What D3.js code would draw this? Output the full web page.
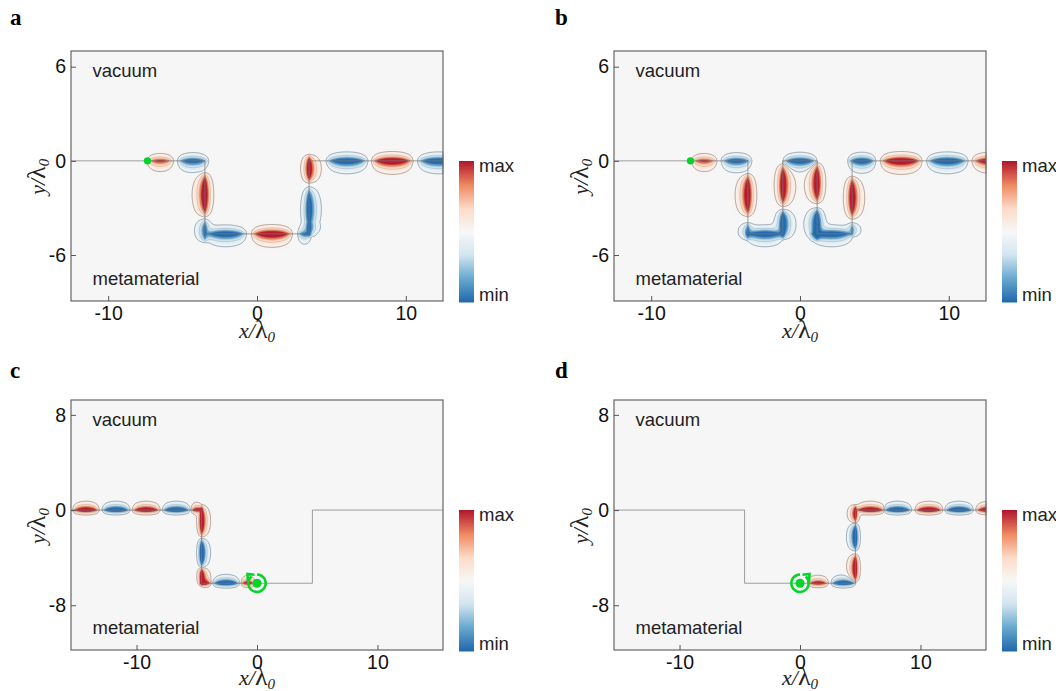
<!DOCTYPE html>
<html>
<head>
<meta charset="utf-8">
<title>field maps</title>
<script src="https://cdnjs.cloudflare.com/ajax/libs/d3/7.8.5/d3.min.js"></script>
<style>
  html, body { margin: 0; padding: 0; background: #fff; }
  svg { display: block; }
  .tick text { font-family: "Liberation Sans", sans-serif; font-size: 19.5px; fill: #111; }
  .tick line { stroke: #555; stroke-width: 1; }
  .note { font-family: "Liberation Sans", sans-serif; font-size: 18.5px; fill: #222; }
  .letter { font-family: "Liberation Serif", serif; font-size: 23px; font-weight: bold; fill: #000; }
  .axis-title { font-family: "Liberation Serif", serif; font-size: 22px; fill: #222; }
</style>
</head>
<body>
<svg id="chart" width="1056" height="691"></svg>
<script>
// ============ data ============
// lobe: [x, y, half length, peak, direction]  (units of lambda0)
const lobesA = [
  [-6.5, 0, 0.95, 1.1, 'h'], [-4.3, 0, 1.1, 1.5, 'h'], [-3.5, -2.15, 1.46, 2.2, 'v'],
  [-3.5, -4.45, 0.8, 1.2, 'v'], [-2.1, -4.65, 1.45, 1.9, 'h'], [1.0, -4.65, 1.42, 2.2, 'h'],
  [3.2, -4.65, 0.5, 1.0, 'h'], [3.5, -3.1, 1.5, 1.9, 'v'], [3.5, -4.4, 0.5, 0.9, 'v'],
  [3.5, -0.5, 0.95, 1.9, 'v'], [6.04, 0, 1.46, 1.9, 'h'], [9.09, 0, 1.44, 2.2, 'h'],
  [12.2, 0, 1.46, 1.9, 'h']
];
const signsA = [1, -1, 1, -1, -1, 1, -1, -1, -1, 1, -1, 1, -1];

const lobesB = [
  [-6.44, 0, 0.91, 1.1, 'h'], [-4.27, 0, 1.08, 1.5, 'h'], [-3.5, -2.17, 1.42, 2.2, 'v'],
  [-1.15, -1.55, 1.41, 2.1, 'v'], [0, 0, 1.19, 1.7, 'h'], [1.15, -1.42, 1.35, 2.1, 'v'],
  [3.5, -2.34, 1.42, 2.1, 'v'], [-2.36, -4.65, 1.35, 1.9, 'h'], [-1.15, -4.05, 1.0, 2.1, 'v'],
  [-3.5, -4.5, 0.6, 1.0, 'v'], [1.15, -4.05, 1.1, 2.2, 'v'], [2.13, -4.65, 1.5, 1.9, 'h'],
  [3.5, -4.4, 0.5, 0.8, 'v'], [4.15, 0, 0.98, 1.7, 'h'], [6.8, 0, 1.44, 2.2, 'h'],
  [9.9, 0, 1.44, 1.9, 'h'], [12.95, 0, 1.44, 1.9, 'h']
];
const signsB = [1, -1, 1, 1, -1, 1, 1, -1, -1, -1, -1, -1, -1, -1, 1, -1, 1];

const lobesC = [
  [-14.2, 0, 1.14, 2.2, 'h'], [-11.7, 0, 1.2, 2.2, 'h'], [-9.2, 0, 1.2, 2.2, 'h'],
  [-6.7, 0, 1.2, 2.2, 'h'], [-5.0, 0, 0.5, 1.5, 'h'], [-4.6, -0.9, 1.4, 2.2, 'v'],
  [-4.6, -3.6, 1.26, 2.2, 'v'], [-4.6, -5.6, 0.8, 2.0, 'v'], [-4.3, -6.15, 0.5, 1.5, 'h'],
  [-2.57, -6.15, 1.16, 2.2, 'h'], [-0.75, -6.15, 0.6, 1.5, 'h']
];
const signsC = [1, -1, 1, -1, 1, 1, -1, 1, 1, -1, 1];

const lobesD = [
  [1.5, -6.15, 0.9, 1.6, 'h'], [3.6, -6.15, 1.06, 2.0, 'h'], [4.6, -4.87, 1.23, 2.2, 'v'],
  [4.6, -2.27, 1.2, 2.2, 'v'], [4.6, -0.3, 0.8, 1.7, 'v'], [5.85, 0, 1.25, 2.2, 'h'],
  [8.1, 0, 1.2, 2.2, 'h'], [10.7, 0, 1.2, 2.2, 'h'], [13.2, 0, 1.22, 2.2, 'h'],
  [15.75, 0, 1.2, 2.2, 'h']
];
const signsD = [1, -1, 1, -1, 1, 1, -1, 1, -1, 1];

// waveguide interface outlines
const guideA = [[-12.5, 0], [-3.5, 0], [-3.5, -4.65], [3.5, -4.65], [3.5, 0], [12.5, 0]];
const guideB = [[-12.5, 0], [-3.5, 0], [-3.5, -4.65], [-1.15, -4.65], [-1.15, 0], [1.15, 0],
  [1.15, -4.65], [3.5, -4.65], [3.5, 0], [12.5, 0]];
const guideCD = [[-15.4, 0], [-4.6, 0], [-4.6, -6.15], [4.6, -6.15], [4.6, 0], [15.4, 0]];

const xTicksAB = [-10, 0, 10];
const xTicksCD = [-10, 0, 10];
const yTicksAB = [-6, 0, 6];
const yTicksCD = [-8, 0, 8];

const fieldColors = ['#2166ac', '#67a9cf', '#d1e5f0', '#f7f7f7', '#fddbc7', '#ef8a62', '#b2182b'];
const fieldStops = [-1, -0.66, -0.33, 0, 0.33, 0.66, 1];

const panels = [
  { letter: 'a', left: 71, top: 51, letterX: 10, letterY: 25, titleGap: 37, xd: [-12.5, 12.5], yd: [7, -8.93], xt: xTicksAB, yt: yTicksAB, lobes: lobesA, signs: signsA, guide: guideA, decayVac: 0.18, decayMeta: 0.26, source: [-7.36, 0], spin: 0 },
  { letter: 'b', left: 614, top: 51, letterX: 555, letterY: 25, titleGap: 37, xd: [-12.5, 12.5], yd: [7, -8.93], xt: xTicksAB, yt: yTicksAB, lobes: lobesB, signs: signsB, guide: guideB, decayVac: 0.18, decayMeta: 0.26, source: [-7.36, 0], spin: 0 },
  { letter: 'c', left: 71, top: 400, letterX: 10, letterY: 378, titleGap: 35, xd: [-15.44, 15.44], yd: [9.25, -11.76], xt: xTicksCD, yt: yTicksCD, lobes: lobesC, signs: signsC, guide: guideCD, decayVac: 0.225, decayMeta: 0.125, source: [0, -6.15], spin: 1 },
  { letter: 'd', left: 614, top: 400, letterX: 555, letterY: 378, titleGap: 35, xd: [-15.44, 15.44], yd: [9.25, -11.76], xt: xTicksCD, yt: yTicksCD, lobes: lobesD, signs: signsD, guide: guideCD, decayVac: 0.225, decayMeta: 0.125, source: [0, -6.15], spin: -1 }
];

// ============ layout ============
const plotW = 372;
const plotH = 250;
const gridScale = 2;   // field samples per pixel

const svg = d3.select('#chart');
const color = d3.scaleLinear().domain(fieldStops).range(fieldColors).clamp(true);

svg.append('defs').append('filter')
  .attr('id', 'soft')
  .append('feGaussianBlur')
  .attr('stdDeviation', 0.5);

// field of one panel: each lobe is cos along the guide, exponential decay away from it,
// decaying at a different rate on the metamaterial side
function buildField(p, x, y) {
  const nx = plotW * gridScale;
  const ny = plotH * gridScale;
  const values = new Float64Array(nx * ny);
  const metaRegion = p.guide.concat([[99, -99], [-99, -99]]);

  p.lobes.forEach((l, idx) => {
    const sign = p.signs[idx];
    const horizontal = l[4] === 'h';
    // across > 0 means up (h) or right (v); find which of those is the metamaterial
    const metaPositive = horizontal ? false : d3.polygonContains(metaRegion, [l[0] + 0.1, l[1]]);
    for (let j = 0; j < ny; j++) {
      const yv = y.invert((j + 0.5) / gridScale);
      for (let i = 0; i < nx; i++) {
        const xv = x.invert((i + 0.5) / gridScale);
        const along = horizontal ? xv - l[0] : yv - l[1];
        const across = horizontal ? yv - l[1] : xv - l[0];
        const u = Math.abs(along) / l[2];
        if (u >= 1) continue;
        const inMeta = across > 0 ? metaPositive : !metaPositive;
        const decay = inMeta ? p.decayMeta : p.decayVac;
        const v = l[3] * Math.cos(u * Math.PI / 2) * Math.exp(-Math.abs(across) / decay);
        values[j * nx + i] += sign * v;
      }
    }
  });
  return { values, nx, ny };
}

function drawField(g, field) {
  const levels = d3.range(0.02, 1.0001, 0.04);
  const lineLevels = [0.08, 0.28, 0.6];
  const gen = d3.contours().size([field.nx, field.ny]).smooth(true);
  const path = d3.geoPath();
  const scaled = g.append('g')
    .attr('filter', 'url(#soft)')
    .attr('transform', `scale(${1 / gridScale})`);

  [1, -1].forEach(sign => {
    const vals = Array.from(field.values, v => sign * v);
    gen.thresholds(levels);
    scaled.append('g').selectAll('path')
      .data(gen(vals))
      .join('path')
      .attr('d', path)
      .attr('fill', d => color(sign * d.value));

    gen.thresholds(lineLevels);
    scaled.append('g').selectAll('path')
      .data(gen(vals))
      .join('path')
      .attr('d', path)
      .attr('fill', 'none')
      .attr('stroke', sign > 0 ? '#6b4a3e' : '#3d566b')
      .attr('stroke-opacity', (d, i) => i === 0 ? 0.6 : 0.25)
      .attr('stroke-width', gridScale * 0.8);
  });
}

function axisTitle(g, tx, ty, rotate, first) {
  const t = g.append('text')
    .attr('class', 'axis-title')
    .attr('text-anchor', 'middle')
    .attr('transform', `translate(${tx},${ty})` + (rotate ? ' rotate(-90)' : ''));
  t.append('tspan').attr('font-style', 'italic').text(first + '/');
  t.append('tspan').attr('font-size', 26).text('λ');
  t.append('tspan').attr('font-style', 'italic').attr('font-size', 15).attr('dy', 4).text('0');
}

function drawColorbar(g, barX, barY) {
  const barH = 141;
  const barW = 15;
  const pos = d3.scaleLinear().domain([1, -1]).range([0, barH]);
  g.append('g')
    .attr('filter', 'url(#soft)')
    .selectAll('rect')
    .data(d3.range(1, -1, -2 / barH))
    .join('rect')
    .attr('x', barX)
    .attr('y', d => barY + pos(d))
    .attr('width', barW)
    .attr('height', 1.5)
    .attr('fill', d => color(d));
  g.append('text').attr('class', 'note').attr('x', barX + barW + 5).attr('y', barY + 11).text('max');
  g.append('text').attr('class', 'note').attr('x', barX + barW + 5).attr('y', barY + barH - 1).text('min');
}

function drawSource(g, p, x, y) {
  const cx = x(p.source[0]);
  const cy = y(p.source[1]);
  const green = '#07d42b';
  g.append('circle').attr('cx', cx).attr('cy', cy).attr('r', p.spin ? 4.6 : 3.7).attr('fill', green);
  if (!p.spin) return;

  // ring open at the upper side, with a corner arrow head
  const ring = d3.arc().innerRadius(7.4).outerRadius(10);
  const s = p.spin;
  const a0 = 0;
  const a1 = 2 * Math.PI - 0.7;
  g.append('path')
    .attr('transform', `translate(${cx},${cy})`)
    .attr('d', ring(s > 0 ? { startAngle: a0, endAngle: a1 } : { startAngle: -a1, endAngle: -a0 }))
    .attr('fill', green);
  const head = [[-2.5, -8.5], [-9.5, -9.2], [-9, -1.5]].map(a => [cx + s * a[0], cy + a[1]]);
  g.append('path')
    .attr('d', d3.line()(head))
    .attr('fill', 'none')
    .attr('stroke', green)
    .attr('stroke-width', 2.6);
}

panels.forEach(p => {
  const x = d3.scaleLinear().domain(p.xd).range([0, plotW]);
  const y = d3.scaleLinear().domain(p.yd).range([0, plotH]);
  const root = svg.append('g').attr('transform', `translate(${p.left},${p.top})`);

  root.append('rect').attr('width', plotW).attr('height', plotH).attr('fill', '#f6f6f7');

  drawField(root, buildField(p, x, y));

  root.append('path')
    .attr('d', d3.line().x(d => x(d[0])).y(d => y(d[1]))(p.guide))
    .attr('fill', 'none')
    .attr('stroke', '#777')
    .attr('stroke-opacity', 0.7)
    .attr('stroke-width', 1);

  drawSource(root, p, x, y);

  root.append('rect')
    .attr('width', plotW).attr('height', plotH)
    .attr('fill', 'none').attr('stroke', '#666').attr('stroke-width', 1.2);

  const bottom = root.append('g')
    .attr('transform', `translate(0,${plotH})`)
    .call(d3.axisBottom(x).tickValues(p.xt).tickSize(-5).tickPadding(5).tickFormat(d => String(d)));
  const leftAxis = root.append('g')
    .call(d3.axisLeft(y).tickValues(p.yt).tickSize(-5).tickPadding(5).tickFormat(d => String(d)));
  bottom.select('.domain').remove();
  leftAxis.select('.domain').remove();

  root.append('text').attr('class', 'note').attr('x', 21.5).attr('y', 26).text('vacuum');
  root.append('text').attr('class', 'note').attr('x', 21.5).attr('y', 234).text('metamaterial');

  svg.append('text').attr('class', 'letter').attr('x', p.letterX).attr('y', p.letterY).text(p.letter);

  axisTitle(root, x(0), plotH + p.titleGap, false, 'x');
  axisTitle(root, -26, y(0) + 16, true, 'y');

  drawColorbar(svg, p.left + plotW + 16, p.top + 110);
});
</script>
</body>
</html>
